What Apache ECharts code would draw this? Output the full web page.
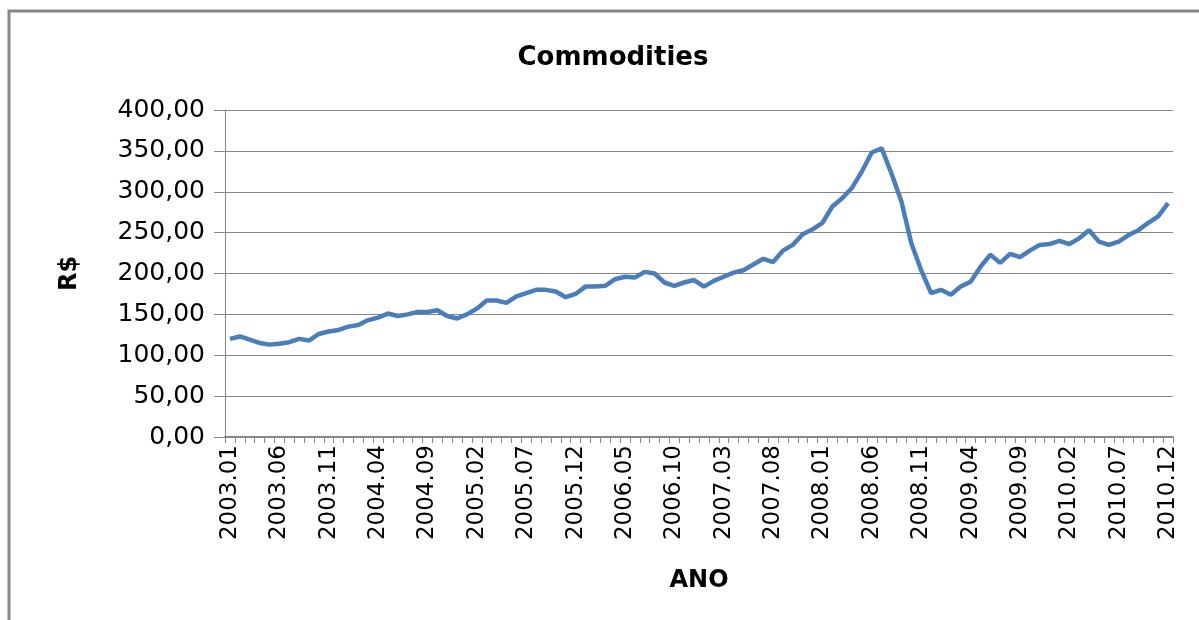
<!DOCTYPE html>
<html>
<head>
<meta charset="utf-8">
<script src="https://cdn.jsdelivr.net/npm/echarts@6/dist/echarts.min.js"></script>
<style>
html,body{margin:0;padding:0;background:#fff;}
#chart{width:1199px;height:620px;}
</style>
</head>
<body>
<div id="chart"></div>
<script>
// Month labels 2003.01 .. 2010.12
const years = [2003, 2004, 2005, 2006, 2007, 2008, 2009, 2010];
const months = ['01','02','03','04','05','06','07','08','09','10','11','12'];
const categories = [];
years.forEach(function (y) { months.forEach(function (m) { categories.push(y + '.' + m); }); });

// Commodities index (R$), monthly values
const values = [
  120, 123, 119, 115, 113, 114, 116, 120, 118, 126, 129, 131,
  135, 137, 143, 146, 151, 148, 150, 153, 153, 155, 148, 145,
  150, 157, 167, 167, 164, 172, 176, 180, 180, 178, 171, 175,
  184, 184, 185, 193, 196, 195, 202, 200, 189, 185, 189, 192,
  184, 191, 196, 201, 204, 211, 218, 214, 228, 235, 248, 254,
  262, 282, 292, 305, 325, 348, 353, 322, 288, 237, 204, 176,
  180, 174, 184, 190, 208, 223, 213, 224, 220, 228, 235, 236,
  240, 236, 243, 253, 239, 235, 239, 247, 253, 262, 270, 286
];

const titleText = 'Commodities';
const yName = 'R$';
const xName = 'ANO';
const yTicks = [0, 50, 100, 150, 200, 250, 300, 350, 400];

const chart = echarts.init(document.getElementById('chart'));
chart.setOption({
  animation: false,
  backgroundColor: '#ffffff',
  title: {
    text: titleText,
    left: 608,
    textAlign: 'center',
    top: 40,
    textStyle: { fontFamily: 'DejaVu Sans', fontWeight: 'bold', fontSize: 26, color: '#000' }
  },
  graphic: [{
    type: 'rect',
    shape: { x: 9, y: 11, width: 1300, height: 700 },
    style: { fill: 'none', stroke: '#878787', lineWidth: 3 },
    silent: true
  }],
  grid: { left: 225, right: 26, top: 110, bottom: 183 },
  xAxis: {
    type: 'category',
    data: categories,
    boundaryGap: true,
    name: xName,
    nameLocation: 'middle',
    nameGap: 132,
    nameTextStyle: { fontFamily: 'DejaVu Sans', fontWeight: 'bold', fontSize: 24, color: '#000' },
    axisLine: { lineStyle: { color: '#868686', width: 2 } },
    axisTick: { show: true, interval: 0, length: 6, lineStyle: { color: '#868686' } },
    axisLabel: {
      interval: 4,
      rotate: 90,
      margin: 8,
      fontFamily: 'DejaVu Sans',
      fontSize: 23,
      color: '#000'
    },
    splitLine: { show: false }
  },
  yAxis: {
    type: 'value',
    min: 0,
    max: 400,
    interval: 50,
    name: yName,
    nameLocation: 'middle',
    nameGap: 143,
    nameRotate: 90,
    nameTextStyle: { fontFamily: 'DejaVu Sans', fontWeight: 'bold', fontSize: 24, color: '#000' },
    axisLine: { show: true, lineStyle: { color: '#868686', width: 1 } },
    axisTick: { show: true, length: 11, lineStyle: { color: '#868686' } },
    axisLabel: {
      margin: 20,
      fontFamily: 'DejaVu Sans',
      fontSize: 25,
      color: '#000',
      formatter: function (v) { return v.toFixed(2).replace('.', ','); }
    },
    splitLine: { show: true, lineStyle: { color: '#868686', width: 1 } }
  },
  series: [{
    type: 'line',
    data: values,
    showSymbol: false,
    symbol: 'none',
    lineStyle: { color: '#4a7ebb', width: 4.5 },
    itemStyle: { color: '#4a7ebb' }
  }]
});
</script>
</body>
</html>
